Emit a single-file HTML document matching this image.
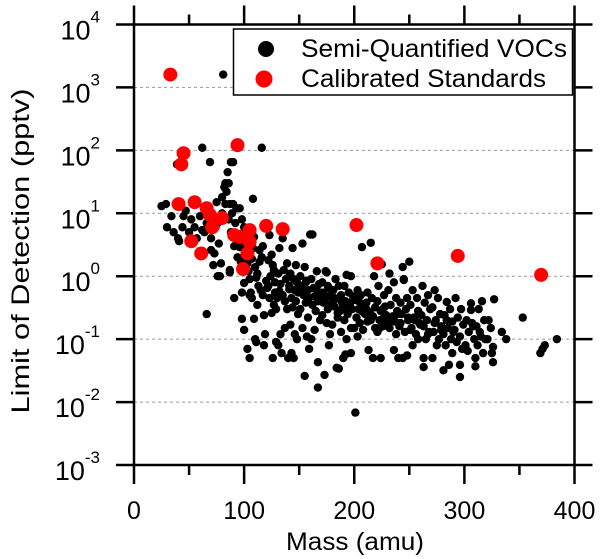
<!DOCTYPE html>
<html>
<head>
<meta charset="utf-8">
<style>
  html, body { margin: 0; padding: 0; background: #fff; }
  svg { display: block; font-family: "Liberation Sans", Arial, sans-serif; }
</style>
</head>
<body>
<svg id="chart" width="600" height="559" viewBox="0 0 600 559" xmlns="http://www.w3.org/2000/svg">
  <rect x="0" y="0" width="600" height="559" fill="#fff"/>
  <g id="grid"></g>
  <g id="semi"></g>
  <g id="std"></g>
  <g id="axes"></g>
  <g id="legend">
    <rect x="233.5" y="29" width="339" height="66" fill="#fff" stroke="#000" stroke-width="1.5"/>
    <circle cx="266" cy="49" r="8" fill="#000"/>
    <text x="301" y="57" font-size="25" textLength="266" lengthAdjust="spacingAndGlyphs">Semi-Quantified VOCs</text>
    <circle cx="264" cy="79" r="8.5" fill="#ff0000"/>
    <text x="301" y="87" font-size="25" textLength="245" lengthAdjust="spacingAndGlyphs">Calibrated Standards</text>
  </g>
  <text x="355" y="550" font-size="25" text-anchor="middle" textLength="138" lengthAdjust="spacingAndGlyphs">Mass (amu)</text>
  <text transform="translate(29,251) rotate(-90)" font-size="25" text-anchor="middle" textLength="325" lengthAdjust="spacingAndGlyphs">Limit of Detection (pptv)</text>
</svg>
<script>
const xTicks = [0, 100, 200, 300, 400];
const xMinorTicks = [50, 150, 250, 350];
const yExponents = [4, 3, 2, 1, 0, -1, -2, -3];

const stdPoints = [
  [33, 1600], [94, 121], [45, 90], [43, 60], [40.5, 14], [55, 15], [66, 12], [69, 9.4],
  [71, 6], [80, 8.4], [52, 3.6], [61, 2.3], [91, 4.5], [96, 4.2], [105, 5.4], [105, 3.5],
  [103, 2.3], [99, 1.3], [120, 6.3], [135, 5.6], [202, 6.5], [221, 1.6], [294, 2.1], [369.7, 1.05]
];

const semiLow = [
  [25, 13], [29, 14], [30, 6], [34, 9], [36, 5], [38, 14], [40, 4], [41, 3.6], [39, 60], [44, 6],
  [45, 9], [47, 11], [50, 5], [52, 8], [55, 6], [57, 4], [60, 9], [62, 110], [62, 5.4], [66, 0.25],
  [64, 5], [66, 7], [68, 12], [69, 65], [70, 4], [72, 9], [73, 2.3], [74, 6], [75, 15], [76, 7],
  [77, 3.3], [78, 1.0], [79, 1.6], [80, 18], [80, 10], [81, 1600], [82, 26], [83, 30], [83, 14], [84, 22],
  [85, 45], [86, 30], [86, 8], [87, 14], [87, 1.25], [88, 65], [88, 5], [89, 10], [90, 65], [90, 14],
  [91, 3], [92, 7], [93, 12], [94, 2], [95, 4], [96, 12], [96, 2.9], [97, 1.7], [98, 8], [99, 1.2],
  [108, 17], [116, 110], [100, 6], [76, 1.0], [87, 1.15], [91, 0.45], [98, 0.55], [98, 0.21], [70, 2.6], [72, 1.5]
];

const semiBand = [
  [101, 3], [102, 2.2], [103, 1.6], [104, 1.2], [105, 0.9], [100, 0.78], [106, 0.55], [105, 0.5], [107, 0.45], [109, 0.21],
  [100, 0.14], [110, 0.1], [103, 0.07], [105, 0.05], [108, 2.8], [109, 4.2], [107, 1.9],
  [116, 2], [114, 2.6], [110, 1.4], [112, 1.1], [120, 0.84], [113, 0.7], [115, 0.6], [117, 0.5], [118, 0.24], [119, 0.12],
  [118, 0.08], [111, 0.09], [112, 0.35], [114, 1.7], [117, 3.0], [111, 0.95],
  [125, 2.2], [122, 1.8], [127, 1.25], [124, 1.0], [128, 0.8], [121, 0.65], [128, 0.55], [123, 0.45], [127, 0.35], [129, 0.3],
  [125, 0.26], [129, 0.09], [126, 0.05], [123, 4.5], [126, 1.5], [122, 0.7],
  [135, 4], [132, 2.8], [136, 1.25], [131, 1.1], [138, 0.9], [133, 0.75], [141, 0.62], [135, 0.5], [137, 0.4], [139, 0.3],
  [137, 0.15], [133, 0.12], [131, 0.08], [134, 0.06], [140, 0.05], [139, 1.6], [132, 0.58], [130, 0.45],
  [144, 2.8], [147, 1.5], [142, 1.1], [145, 0.9], [148, 0.8], [141, 0.7], [146, 0.6], [149, 0.55], [143, 0.45], [147, 0.4],
  [144, 0.32], [149, 0.25], [142, 0.17], [146, 0.12], [148, 0.1], [143, 0.06], [145, 0.05], [150, 0.68], [141, 1.0],
  [153, 3.3], [160, 4.6], [155, 1.4], [151, 1.0], [157, 0.85], [152, 0.7], [158, 0.6], [154, 0.5], [159, 0.45], [156, 0.38],
  [151, 0.3], [158, 0.22], [153, 0.15], [157, 0.11], [155, 0.026], [159, 0.07], [152, 0.55], [156, 0.8],
  [162, 4.6], [166, 1.2], [161, 0.9], [168, 0.75], [163, 0.65], [169, 0.55], [164, 0.48], [167, 0.4], [162, 0.35], [165, 0.28],
  [169, 0.2], [164, 0.14], [167, 0.043], [167, 0.017], [161, 0.1], [166, 0.6], [168, 0.5],
  [174, 1.2], [175, 1.15], [171, 0.8], [177, 0.65], [172, 0.55], [178, 0.48], [173, 0.42], [179, 0.36], [176, 0.3], [171, 0.24],
  [175, 0.18], [178, 0.12], [173, 0.027], [177, 0.08], [179, 0.5], [172, 0.38], [176, 0.7],
  [183, 0.9], [186, 0.7], [181, 0.6], [188, 0.5], [184, 0.44], [189, 0.38], [182, 0.33], [187, 0.28], [185, 0.22], [180, 0.17],
  [188, 0.13], [186, 0.034], [190, 0.05], [184, 0.035], [182, 0.45], [189, 0.3], [185, 0.26],
  [197, 1.0], [193, 1.05], [191, 0.7], [195, 0.55], [199, 0.48], [192, 0.4], [196, 0.35], [198, 0.3], [194, 0.25], [191, 0.2],
  [197, 0.15], [193, 0.1], [197, 0.06], [192, 0.057], [199, 0.42], [195, 0.33],
  [207, 2.9], [203, 0.6], [206, 0.5], [201, 0.42], [208, 0.36], [204, 0.3], [209, 0.26], [202, 0.22], [205, 0.18], [208, 0.14],
  [203, 0.11], [201, 0.0068], [207, 0.28], [209, 0.33], [204, 0.4], [200, 0.15],
  [215, 3.4], [218, 1.0], [212, 0.55], [216, 0.45], [211, 0.38], [219, 0.32], [214, 0.27], [217, 0.23], [212, 0.19], [219, 0.15],
  [213, 0.067], [217, 0.05], [210, 0.25], [215, 0.2], [211, 0.3],
  [225, 1.55], [222, 0.7], [227, 0.5], [221, 0.4], [228, 0.33], [224, 0.28], [229, 0.24], [223, 0.2], [226, 0.16], [221, 0.13],
  [224, 0.05], [227, 0.22], [229, 0.18], [226, 0.3], [223, 0.15],
  [232, 1.1], [236, 0.8], [231, 0.6], [238, 0.45], [233, 0.35], [239, 0.28], [235, 0.23], [237, 0.19], [232, 0.15], [238, 0.12],
  [236, 0.067], [240, 0.05], [234, 0.2], [231, 0.17], [239, 0.25],
  [244, 1.4], [245, 0.87], [245, 0.9], [248, 0.45], [242, 0.38], [247, 0.3], [243, 0.25], [249, 0.2], [241, 0.16], [246, 0.13],
  [244, 0.05], [248, 0.055], [249, 0.22], [242, 0.18],
  [250, 1.7], [253, 0.6], [257, 0.45], [251, 0.35], [258, 0.28], [254, 0.22], [259, 0.18], [252, 0.15], [256, 0.12], [258, 0.1],
  [253, 0.08], [255, 0.2], [251, 0.14],
  [262, 0.7], [267, 0.5], [264, 0.38], [269, 0.3], [261, 0.24], [266, 0.2], [263, 0.16], [268, 0.13], [265, 0.1], [263, 0.05],
  [263, 0.036], [260, 0.17], [267, 0.12],
  [273, 0.6], [276, 0.45], [271, 0.32], [278, 0.25], [274, 0.2], [279, 0.16], [272, 0.13], [277, 0.1], [275, 0.08], [271, 0.05],
  [279, 0.14], [273, 0.18],
  [284, 0.39], [287, 0.3], [282, 0.24], [289, 0.19], [285, 0.15], [281, 0.12], [288, 0.1], [283, 0.08], [281, 0.032], [286, 0.039],
  [289, 0.06], [284, 0.2],
  [292, 0.45], [297, 0.3], [294, 0.22], [299, 0.17], [291, 0.14], [296, 0.11], [293, 0.09], [296, 0.025], [296, 0.039], [298, 0.07],
  [290, 0.13],
  [306, 0.37], [306, 0.29], [302, 0.2], [308, 0.16], [304, 0.13], [309, 0.1], [301, 0.08], [310, 0.05], [310, 0.037], [303, 0.065],
  [307, 0.18],
  [316, 0.4], [313, 0.3], [318, 0.2], [311, 0.16], [315, 0.11], [319, 0.1], [312, 0.08], [317, 0.06], [314, 0.13],
  [327, 0.43], [322, 0.2], [324, 0.15], [326, 0.075], [326, 0.043], [321, 0.1], [325, 0.06],
  [338, 0.1], [334, 0.13], [353, 0.22], [369, 0.06], [371, 0.07], [373, 0.08], [384, 0.1]
];

const X0 = 134, X1 = 574.5, XMAX = 400;
const YTOP = 24.5, YBOT = 465, EMAX = 4, EMIN = -3;
const SVGNS = "http://www.w3.org/2000/svg";
function xScale(m) { return X0 + (m / XMAX) * (X1 - X0); }
function yScale(v) { return YTOP + (EMAX - Math.log10(v)) / (EMAX - EMIN) * (YBOT - YTOP); }
function mk(tag, attrs, parent) {
  const el = document.createElementNS(SVGNS, tag);
  for (const k in attrs) el.setAttribute(k, attrs[k]);
  parent.appendChild(el);
  return el;
}

const grid = document.getElementById('grid');
const axes = document.getElementById('axes');
const semi = document.getElementById('semi');
const std = document.getElementById('std');

yExponents.forEach(function (e) {
  const y = yScale(Math.pow(10, e));
  if (e < EMAX && e > EMIN) {
    const g = mk('line', { x1: X0, x2: X1, y1: y, y2: y, stroke: '#9a9a9a', 'stroke-width': 1, 'stroke-dasharray': '3,3' }, grid);
    
    
  }
  const tl = mk('line', { x1: X0 - 18, x2: X0, y1: y, y2: y, stroke: '#000', 'stroke-width': 2.5 }, axes);
  
  
  const tr = mk('line', { x1: X1, x2: X1 + 18, y1: y, y2: y, stroke: '#000', 'stroke-width': 2.5 }, axes);
  
  
  const t = mk('text', { x: 100, y: y + 15, 'font-size': 27, 'text-anchor': 'end' }, axes);
  
  
  t.appendChild(document.createTextNode('10'));
  const s = mk('tspan', { 'font-size': 17, dy: -17 }, t);
  s.textContent = String(e);
});

xTicks.forEach(function (m) {
  const x = xScale(m);
  const b = mk('line', { x1: x, x2: x, y1: YBOT, y2: YBOT + 19, stroke: '#000', 'stroke-width': 2.5 }, axes);
  
  
  const t = mk('line', { x1: x, x2: x, y1: YTOP - 19, y2: YTOP, stroke: '#000', 'stroke-width': 2.5 }, axes);
  
  
  const lab = mk('text', { x: x, y: 519, 'font-size': 25, 'text-anchor': 'middle' }, axes);
  
  
  lab.textContent = String(m);
});
xMinorTicks.forEach(function (m) {
  const x = xScale(m);
  const b = mk('line', { x1: x, x2: x, y1: YBOT, y2: YBOT + 10, stroke: '#000', 'stroke-width': 2.5 }, axes);
  
  
  const t = mk('line', { x1: x, x2: x, y1: YTOP - 10, y2: YTOP, stroke: '#000', 'stroke-width': 2.5 }, axes);
  
  
});

const frame = mk('rect', { x: X0, y: YTOP, width: X1 - X0, height: YBOT - YTOP, fill: 'none', stroke: '#000', 'stroke-width': 2.5 }, axes);



semiLow.concat(semiBand).forEach(function (p) {
  const c = mk('circle', { cx: xScale(p[0]), cy: yScale(p[1]), r: 4.2, fill: '#000' }, semi);
  
  
});
stdPoints.forEach(function (p) {
  const c = mk('circle', { cx: xScale(p[0]), cy: yScale(p[1]), r: 7, fill: '#ff0000' }, std);
  
  
});
</script>
</body>
</html>
